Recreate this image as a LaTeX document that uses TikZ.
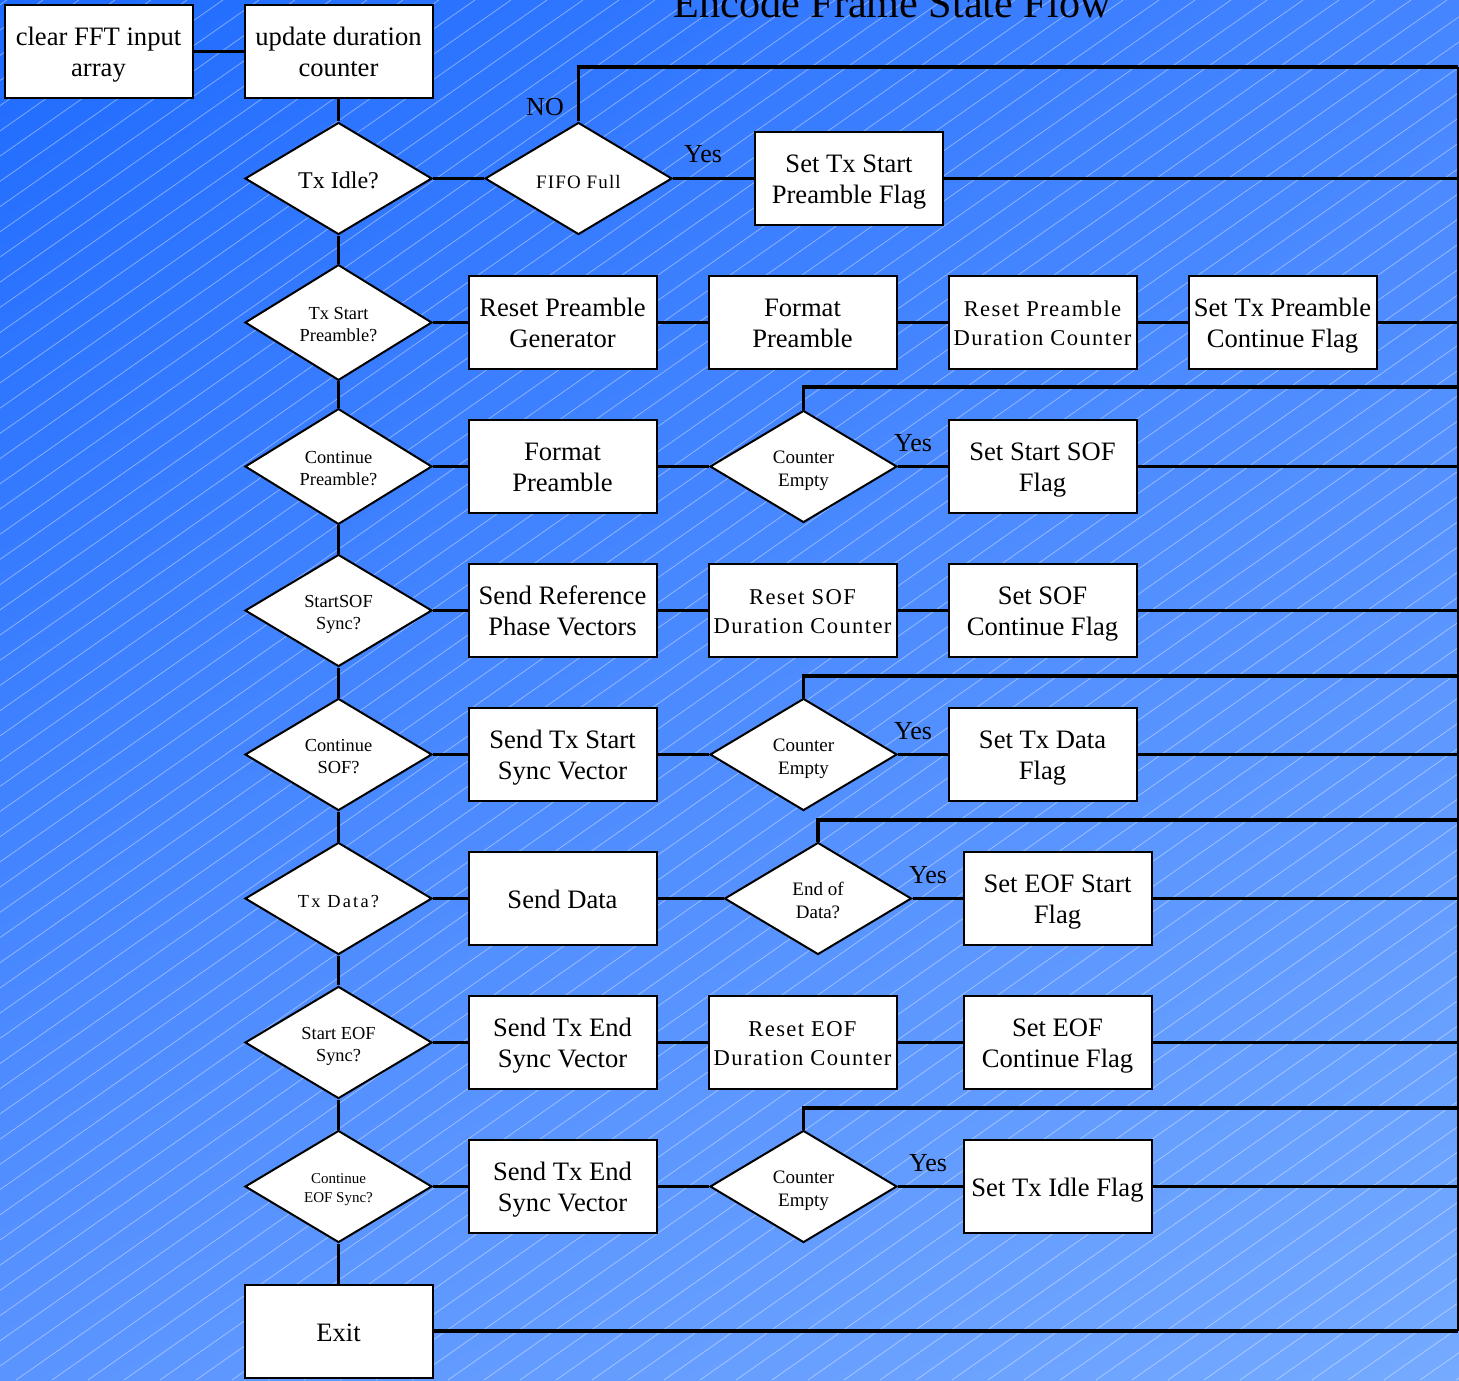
\documentclass[tikz,border=0pt]{standalone}
\usepackage{fontspec}
\setmainfont{Liberation Serif}
\newfontfamily\lsp[LetterSpace=6]{Liberation Serif}
\newfontfamily\lspw[LetterSpace=12]{Liberation Serif}
\usetikzlibrary{shapes.geometric,shadings}
\definecolor{bgUL}{RGB}{31,107,255}
\definecolor{bgUR}{RGB}{69,133,255}
\definecolor{bgLL}{RGB}{90,148,255}
\definecolor{bgLR}{RGB}{117,170,255}
\begin{document}
\begin{tikzpicture}[x=0.5pt,y=-0.5pt,
  box/.style={draw=black, line width=1pt, fill=white, minimum width=94pt, minimum height=46.5pt, inner sep=1pt, align=center, text depth=0pt, text height=24.8pt, font=\fontsize{13.3}{15.5}\selectfont},
  onebox/.style={box, text height=10pt},
  lspbox/.style={box, text height=23.4pt, font=\lsp\fontsize{11.3}{14.6}\selectfont},
  dia/.style={diamond, draw=black, line width=1pt, fill=white, minimum width=93.5pt, minimum height=56pt, inner sep=0pt, align=center, text depth=0pt, text height=19pt, font=\fontsize{9.2}{11}\selectfont},
  cedia/.style={dia, text height=19.5pt, font=\fontsize{9.5}{11.5}\selectfont},
  conn/.style={line width=1.7pt, black},
  busline/.style={line width=0.7pt, black},
  lbl/.style={font=\fontsize{13}{15}\selectfont, inner sep=0pt, anchor=base},
  hatch/.style={white, opacity=0.4, line width=0.4pt}]
\useasboundingbox (0,0) rectangle (1459,1380);
\begin{scope}
\clip (0,0) rectangle (1459,1380);
\shade[upper left=bgUL, upper right=bgUR, lower left=bgLL, lower right=bgLR] (0,0) rectangle (1459,1380);
\foreach \a in {-2000,-1964,...,1460} \draw[hatch] (\a,1380) -- ++(1971,-1380);
\end{scope}

\node[font=\fontsize{21.1}{24}\selectfont, anchor=base, inner sep=0pt] (title) at (892,18) {Encode Frame State Flow};

% row 0/1
\node[box] (clr) at (98.5,51.5) {clear FFT input\\array};
\node[box] (upd) at (338.5,51.5) {update duration\\counter};
\node[dia, text height=10.5pt, font=\fontsize{12}{14}\selectfont] (idle) at (338.5,178.5) {Tx Idle?};
\node[dia, text height=9.8pt, font=\lsp\fontsize{9.5}{11.5}\selectfont] (fifo) at (578.5,178.5) {FIFO Full};
\node[box] (sts) at (849,178.5) {Set Tx Start\\Preamble Flag};
% row 2
\node[dia] (tsp) at (338.5,322.5) {Tx Start\\Preamble?};
\node[box] (rpg) at (562.5,322.5) {Reset Preamble\\Generator};
\node[box] (fp1) at (802.5,322.5) {Format\\Preamble};
\node[lspbox] (rpd) at (1042.5,322.5) {Reset Preamble\\Duration Counter};
\node[box] (stp) at (1282.5,322.5) {Set Tx Preamble\\Continue Flag};
% row 3
\node[dia] (cpr) at (338.5,466.5) {Continue\\Preamble?};
\node[box] (fp2) at (562.5,466.5) {Format\\Preamble};
\node[cedia] (ce1) at (803.5,466.5) {Counter\\Empty};
\node[box] (ssf) at (1042.5,466.5) {Set Start SOF\\Flag};
% row 4
\node[dia] (ssync) at (338.5,610.5) {StartSOF\\Sync?};
\node[box] (srp) at (562.5,610.5) {Send Reference\\Phase Vectors};
\node[lspbox] (rsd) at (802.5,610.5) {Reset SOF\\Duration Counter};
\node[box] (scf) at (1042.5,610.5) {Set SOF\\Continue Flag};
% row 5
\node[dia] (csof) at (338.5,754.5) {Continue\\SOF?};
\node[box] (stsv) at (562.5,754.5) {Send Tx Start\\Sync Vector};
\node[cedia] (ce2) at (803.5,754.5) {Counter\\Empty};
\node[box] (stdf) at (1042.5,754.5) {Set Tx Data\\Flag};
% row 6
\node[dia, text height=9pt, font=\lspw\fontsize{9.2}{11}\selectfont] (txd) at (338.5,898.5) {Tx Data?};
\node[onebox] (sd) at (562.5,898.5) {Send Data};
\node[cedia] (eod) at (818,898.5) {End of\\Data?};
\node[box] (sesf) at (1057.5,898.5) {Set EOF Start\\Flag};
% row 7
\node[dia] (seof) at (338.5,1042.5) {Start EOF\\Sync?};
\node[box] (stev1) at (562.5,1042.5) {Send Tx End\\Sync Vector};
\node[lspbox] (red) at (802.5,1042.5) {Reset EOF\\Duration Counter};
\node[box] (secf) at (1057.5,1042.5) {Set EOF\\Continue Flag};
% row 8
\node[dia, text height=15.5pt, font=\fontsize{7.5}{9.5}\selectfont] (ceof) at (338.5,1186.5) {Continue\\EOF Sync?};
\node[box] (stev2) at (562.5,1186.5) {Send Tx End\\Sync Vector};
\node[cedia] (ce3) at (803.5,1186.5) {Counter\\Empty};
\node[onebox] (stif) at (1057.5,1186.5) {Set Tx Idle Flag};
% exit
\node[onebox] (exit) at (338.5,1331) {Exit};

% labels
\node[lbl] (no) at (545,116) {NO};
\node[lbl] (y1) at (703,163) {Yes};
\node[lbl] (y3) at (913,451) {Yes};
\node[lbl] (y5) at (913,739) {Yes};
\node[lbl] (y6) at (928,883) {Yes};
\node[lbl] (y8) at (928,1171) {Yes};

% bus coordinates
\coordinate (bT) at (1458,67);
\coordinate (b1) at (1458,178.5);
\coordinate (b2) at (1458,322.5);
\coordinate (b3t) at (1458,387);
\coordinate (b3) at (1458,466.5);
\coordinate (b4) at (1458,610.5);
\coordinate (b5t) at (1458,676);
\coordinate (b5) at (1458,754.5);
\coordinate (b6t) at (1458,820);
\coordinate (b6) at (1458,898.5);
\coordinate (b7) at (1458,1042.5);
\coordinate (b8t) at (1458,1108);
\coordinate (b8) at (1458,1186.5);
\coordinate (bE) at (1458,1331);

% connectors
\draw[conn] (clr) -- (upd);
\draw[conn] (upd) -- (idle);
\draw[conn] (idle) -- (tsp);
\draw[conn] (tsp) -- (cpr);
\draw[conn] (cpr) -- (ssync);
\draw[conn] (ssync) -- (csof);
\draw[conn] (csof) -- (txd);
\draw[conn] (txd) -- (seof);
\draw[conn] (seof) -- (ceof);
\draw[conn] (ceof) -- (exit);

\draw[conn] (idle) -- (fifo);
\draw[conn] (fifo) -- (sts);
\draw[conn] (sts) -- (b1);
\draw[conn] (fifo.north) |- (bT);

\draw[conn] (tsp) -- (rpg);
\draw[conn] (rpg) -- (fp1);
\draw[conn] (fp1) -- (rpd);
\draw[conn] (rpd) -- (stp);
\draw[conn] (stp) -- (b2);

\draw[conn] (cpr) -- (fp2);
\draw[conn] (fp2) -- (ce1);
\draw[conn] (ce1) -- (ssf);
\draw[conn] (ssf) -- (b3);
\draw[conn] (ce1.north) |- (b3t);

\draw[conn] (ssync) -- (srp);
\draw[conn] (srp) -- (rsd);
\draw[conn] (rsd) -- (scf);
\draw[conn] (scf) -- (b4);

\draw[conn] (csof) -- (stsv);
\draw[conn] (stsv) -- (ce2);
\draw[conn] (ce2) -- (stdf);
\draw[conn] (stdf) -- (b5);
\draw[conn] (ce2.north) |- (b5t);

\draw[conn] (txd) -- (sd);
\draw[conn] (sd) -- (eod);
\draw[conn] (eod) -- (sesf);
\draw[conn] (sesf) -- (b6);
\draw[conn] (eod.north) |- (b6t);

\draw[conn] (seof) -- (stev1);
\draw[conn] (stev1) -- (red);
\draw[conn] (red) -- (secf);
\draw[conn] (secf) -- (b7);

\draw[conn] (ceof) -- (stev2);
\draw[conn] (stev2) -- (ce3);
\draw[conn] (ce3) -- (stif);
\draw[conn] (stif) -- (b8);
\draw[conn] (ce3.north) |- (b8t);

\draw[conn] (exit) -- (bE);
\draw[busline] (bT) -- (bE);
\end{tikzpicture}
\end{document}
